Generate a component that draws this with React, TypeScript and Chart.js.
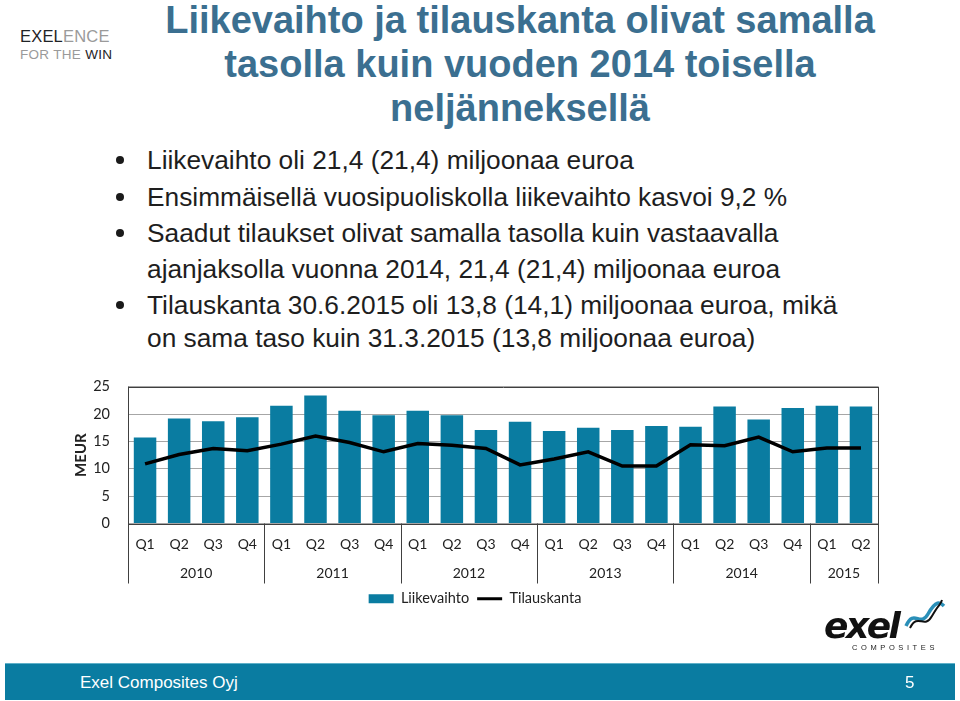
import React, { useEffect, useRef } from "react";
import { Chart, registerables } from "chart.js";

Chart.register(...registerables);

const quarters = ["Q1","Q2","Q3","Q4","Q1","Q2","Q3","Q4","Q1","Q2","Q3","Q4","Q1","Q2","Q3","Q4","Q1","Q2","Q3","Q4","Q1","Q2"];
const years = ["2010", "2011", "2012", "2013", "2014", "2015"];
const quartersPerYear = [4, 4, 4, 4, 4, 2];
const liikevaihto = [15.7, 19.2, 18.7, 19.4, 21.5, 23.4, 20.6, 19.8, 20.6, 19.8, 17.1, 18.6, 16.9, 17.5, 17.1, 17.8, 17.7, 21.4, 19.0, 21.1, 21.5, 21.4];
const tilauskanta = [10.9, 12.6, 13.7, 13.3, 14.5, 16.0, 14.8, 13.1, 14.6, 14.3, 13.7, 10.7, 11.8, 13.1, 10.5, 10.5, 14.4, 14.2, 15.8, 13.1, 13.8, 13.8];
const yTicks = [0, 5, 10, 15, 20, 25];
const seriesNames = ["Liikevaihto", "Tilauskanta"];

const TEAL = "#0a7ca1";
const AXIS_FONT = "Lato, 'Open Sans', sans-serif";

const yearPlugin = {
  id: "yearGroups",
  afterDraw(chart: any) {
    const { ctx, chartArea } = chart;
    const xs = chart.scales.x;
    const bottomExt = chartArea.bottom + 60;
    ctx.save();
    ctx.strokeStyle = "#404040";
    ctx.lineWidth = 1;
    ctx.beginPath();
    ctx.moveTo(chartArea.left + 0.5, Math.round(chartArea.top) + 0.5);
    ctx.lineTo(chartArea.right + 0.5, Math.round(chartArea.top) + 0.5);
    ctx.moveTo(chartArea.left + 0.5, chartArea.top);
    ctx.lineTo(chartArea.left + 0.5, bottomExt);
    ctx.moveTo(chartArea.right + 0.5, chartArea.top);
    ctx.lineTo(chartArea.right + 0.5, bottomExt);
    ctx.moveTo(chartArea.left, Math.round(chartArea.bottom) + 0.5);
    ctx.lineTo(chartArea.right, Math.round(chartArea.bottom) + 0.5);
    ctx.stroke();
    ctx.fillStyle = "#222";
    ctx.font = "14px " + AXIS_FONT;
    ctx.textAlign = "center";
    ctx.textBaseline = "middle";
    let idx = 0;
    years.forEach((yr, g) => {
      const n = quartersPerYear[g];
      const first = idx;
      const last = idx + n - 1;
      const half = (xs.getPixelForValue(1) - xs.getPixelForValue(0)) / 2;
      const x0 = xs.getPixelForValue(first) - half;
      const x1 = xs.getPixelForValue(last) + half;
      if (g > 0) {
        ctx.beginPath();
        ctx.moveTo(Math.round(x0) + 0.5, chartArea.bottom);
        ctx.lineTo(Math.round(x0) + 0.5, bottomExt);
        ctx.stroke();
      }
      ctx.fillText(yr, (x0 + x1) / 2, chartArea.bottom + 50);
      idx += n;
    });
    ctx.restore();
  },
};

function ChartBox() {
  const ref = useRef<HTMLCanvasElement | null>(null);
  useEffect(() => {
    if (!ref.current) return;
    const chart = new Chart(ref.current, {
      type: "bar",
      data: {
        labels: quarters,
        datasets: [
          {
            type: "bar",
            label: seriesNames[0],
            data: liikevaihto,
            backgroundColor: TEAL,
            borderWidth: 0,
            categoryPercentage: 1,
            barPercentage: 0.66,
            order: 1,
          } as any,
          {
            type: "line",
            label: seriesNames[1],
            data: tilauskanta,
            borderColor: "#000",
            backgroundColor: "#000",
            borderWidth: 3.5,
            pointRadius: 0,
            tension: 0,
            order: 0,
          } as any,
        ],
      },
      options: {
        animation: false,
        responsive: false,
        maintainAspectRatio: false,
        layout: { padding: { left: 72, right: 82, top: 20, bottom: 4 } },
        plugins: {
          tooltip: { enabled: false },
          legend: {
            position: "bottom",
            labels: {
              usePointStyle: true,
              pointStyleWidth: 25,
              boxHeight: 9,
              padding: 8,
              color: "#222",
              font: { family: AXIS_FONT, size: 14.5 },
              sort: (a: any, b: any) => a.datasetIndex - b.datasetIndex,
              generateLabels: (c: any) => {
                const items = (Chart.defaults.plugins.legend.labels as any).generateLabels(c);
                return items.map((it: any) => {
                  if (it.datasetIndex === 0) {
                    return { ...it, pointStyle: "rect", lineWidth: 0, fillStyle: TEAL, strokeStyle: TEAL };
                  }
                  return { ...it, pointStyle: "line", lineWidth: 3, strokeStyle: "#000", fillStyle: "#000" };
                });
              },
            },
          },
        },
        scales: {
          x: {
            type: "category",
            grid: { display: false },
            border: { display: false },
            ticks: { color: "#222", font: { family: AXIS_FONT, size: 14 }, padding: 5, maxRotation: 0, autoSkip: false },
            afterFit: (s: any) => { s.height = 60; },
          },
          y: {
            min: 0,
            max: 25,
            afterBuildTicks: (s: any) => { s.ticks = yTicks.map((v) => ({ value: v })); },
            grid: { color: "#a6a6a6", drawTicks: false, lineWidth: 1 },
            border: { display: false },
            ticks: { color: "#222", font: { family: AXIS_FONT, size: 14.5 }, padding: 18 },
            title: { display: true, text: "MEUR", color: "#222", font: { family: AXIS_FONT, size: 15, weight: "bold" }, padding: 0 },
            afterFit: (s: any) => { s.width = 56; },
          },
        },
      },
      plugins: [yearPlugin],
    } as any);
    return () => chart.destroy();
  }, []);
  return (
    <canvas
      ref={ref}
      width={960}
      height={260}
      style={{ position: "absolute", left: 0, top: 360, width: 960, height: 260 }}
    />
  );
}

const bullet: React.CSSProperties = {
  position: "absolute",
  left: 147,
  fontFamily: "'Liberation Sans', Arial, sans-serif",
  fontSize: 26.3,
  color: "#1e1e1e",
  whiteSpace: "nowrap",
  lineHeight: "30px",
};
const dot: React.CSSProperties = {
  position: "absolute",
  left: 116,
  width: 8,
  height: 8,
  borderRadius: 4,
  background: "#1a1a1a",
};

export default function App() {
  const lines: [number, string, boolean][] = [
    [160, "Liikevaihto oli 21,4 (21,4) miljoonaa euroa", true],
    [197, "Ensimmäisellä vuosipuoliskolla liikevaihto kasvoi 9,2 %", true],
    [233, "Saadut tilaukset olivat samalla tasolla kuin vastaavalla", true],
    [269, "ajanjaksolla vuonna 2014, 21,4 (21,4) miljoonaa euroa", false],
    [305, "Tilauskanta 30.6.2015 oli 13,8 (14,1) miljoonaa euroa, mikä", true],
    [338, "on sama taso kuin 31.3.2015 (13,8 miljoonaa euroa)", false],
  ];
  return (
    <div style={{ position: "fixed", left: 0, top: 0, width: 960, height: 701, background: "#fff", overflow: "hidden" }}>
      <div style={{ position: "absolute", left: 20, top: 27, fontFamily: "'Liberation Sans', Arial, sans-serif", fontSize: 16.5, lineHeight: "18px", letterSpacing: 0.2 }}>
        <span style={{ color: "#1f2326" }}>EXEL</span><span style={{ color: "#9a9a9a" }}>ENCE</span>
      </div>
      <div style={{ position: "absolute", left: 20, top: 47, fontFamily: "'Liberation Sans', Arial, sans-serif", fontSize: 13.5, lineHeight: "16px", letterSpacing: 0.3 }}>
        <span style={{ color: "#9a9a9a" }}>FOR THE </span><span style={{ color: "#1f2326" }}>WIN</span>
      </div>
      <div style={{ position: "absolute", left: 120, width: 800, top: -2, textAlign: "center", fontFamily: "'Liberation Sans', Arial, sans-serif", fontWeight: "bold", fontSize: 38, lineHeight: "44px", color: "#3b6f90" }}>
        Liikevaihto ja tilauskanta olivat samalla<br />tasolla kuin vuoden 2014 toisella<br />neljänneksellä
      </div>
      {lines.map(([y, t, b], i) => (
        <React.Fragment key={i}>
          {b && <div style={{ ...dot, top: y - 4 }} />}
          <div style={{ ...bullet, top: y - 15 }}>{t}</div>
        </React.Fragment>
      ))}
      <ChartBox />
      <div style={{ position: "absolute", left: 824, top: 606, fontFamily: "'DejaVu Sans', sans-serif", fontWeight: "bold", fontStyle: "italic", fontSize: 36, lineHeight: "40px", color: "#111", letterSpacing: -2.5 }}>
        exel
      </div>
      <svg style={{ position: "absolute", left: 902, top: 598 }} width={46} height={36} viewBox="0 0 46 36">
        <path d="M4 28 C 12 10, 18 30, 26 16 S 38 4, 42 8" stroke="#2a8fb8" strokeWidth={3.5} fill="none" />
        <path d="M8 30 C 16 14, 22 32, 30 18 S 38 8, 40 2" stroke="#111" strokeWidth={2} fill="none" />
      </svg>
      <div style={{ position: "absolute", left: 852, top: 643, fontFamily: "'Liberation Sans', Arial, sans-serif", fontSize: 7.5, letterSpacing: 3.6, color: "#222" }}>
        COMPOSITES
      </div>
      <div style={{ position: "absolute", left: 5, top: 663, width: 950, height: 36, background: TEAL, borderTop: "1px solid #5fb0c8" }}>
        <div style={{ position: "absolute", left: 75, top: 9, fontFamily: "'Liberation Sans', Arial, sans-serif", fontSize: 17, color: "#fff" }}>Exel Composites Oyj</div>
        <div style={{ position: "absolute", left: 900, top: 9, fontFamily: "'Liberation Sans', Arial, sans-serif", fontSize: 17, color: "#fff" }}>5</div>
      </div>
    </div>
  );
}
